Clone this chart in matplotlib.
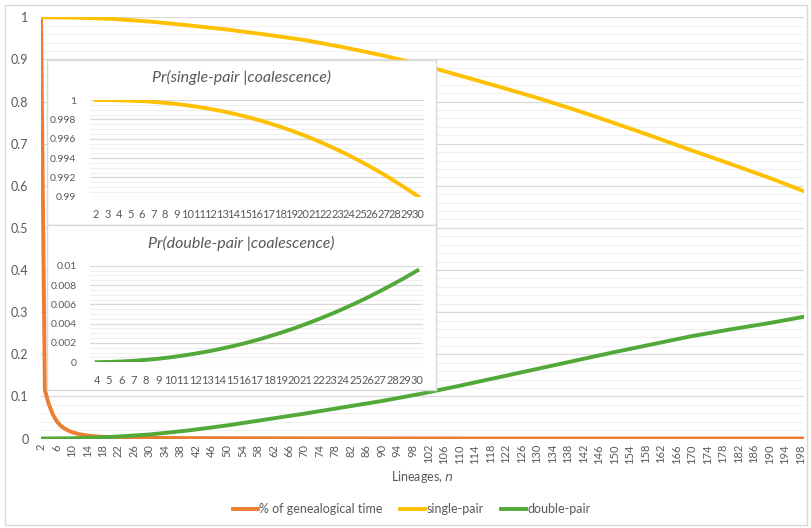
import matplotlib
matplotlib.use("Agg")
import matplotlib.pyplot as plt
from matplotlib.lines import Line2D
from matplotlib.patches import Rectangle
from matplotlib.ticker import MultipleLocator, FixedLocator

plt.rcParams["font.family"] = ["Lato", "DejaVu Sans"]

TXT = "#595959"
GRID = "#D9D9D9"
MINOR = "#F0F0F0"
ORANGE = "#ED7D31"
GOLD = "#FFC000"
GREEN = "#52A838"

# main chart, n = 2..199
n_time = [2, 3, 4, 5, 6, 7, 8, 9, 10, 12, 14, 16, 18, 20, 25, 30, 40, 50, 70, 90, 110, 111, 199]
pct_time = [1.0, 0.115, 0.082, 0.058, 0.042, 0.031, 0.024, 0.019, 0.015, 0.010, 0.007, 0.005,
            0.004, 0.003, 0.002, 0.0015, 0.001, 0.0008, 0.0005, 0.0003, 0.0002, 0.0, 0.0]

n_main = [2, 10, 20, 30, 40, 50, 60, 70, 80, 90, 100, 110, 120, 130, 140, 150, 160, 170, 180, 190, 199]
single_main = [1.0, 0.9994, 0.9964, 0.9900, 0.981, 0.971, 0.959, 0.946, 0.929, 0.910, 0.888,
               0.862, 0.836, 0.809, 0.780, 0.749, 0.717, 0.684, 0.652, 0.619, 0.587]
double_main = [0.0, 0.0005, 0.0035, 0.0095, 0.019, 0.031, 0.045, 0.059, 0.074, 0.089, 0.106,
               0.125, 0.145, 0.165, 0.185, 0.205, 0.224, 0.243, 0.259, 0.274, 0.289]

# insets
n_single = list(range(2, 31))
single_small = [1.0, 0.999995, 0.999977, 0.999941, 0.999886, 0.99981, 0.999711, 0.999588,
                0.99944, 0.999266, 0.999064, 0.998835, 0.998577, 0.998289, 0.997971, 0.997621,
                0.99724, 0.996827, 0.996381, 0.995902, 0.995388, 0.994842, 0.99426, 0.99364,
                0.99299, 0.99230, 0.99157, 0.99081, 0.99001]
n_double = list(range(4, 31))
double_small = [0.00001, 0.00004, 0.00008, 0.00016, 0.00025, 0.00037, 0.00052, 0.00070, 0.00090,
                0.00112, 0.00138, 0.00166, 0.00197, 0.00231, 0.00269, 0.00309, 0.00351, 0.00398,
                0.00447, 0.00499, 0.00554, 0.00612, 0.00673, 0.00738, 0.00806, 0.00876, 0.00950]

W, H = 812, 528


def rect(x0, y0, x1, y1):
    return [x0 / W, 1 - y1 / H, (x1 - x0) / W, (y1 - y0) / H]


def fmt(v):
    s = f"{v:.4f}".rstrip("0").rstrip(".")
    return s


def style_grid(ax):
    ax.set_facecolor("none")
    for s in ax.spines.values():
        s.set_visible(False)
    ax.grid(True, axis="y", which="major", color=GRID, lw=0.9)
    ax.grid(True, axis="y", which="minor", color=MINOR, lw=0.8)
    ax.set_axisbelow(True)
    ax.tick_params(axis="both", which="both", length=0, colors=TXT)


fig = plt.figure(figsize=(W / 100, H / 100), dpi=100)
fig.patches.append(Rectangle((5 / W, 1 - 525 / H), 802 / W, 520 / H, transform=fig.transFigure,
                             fill=False, ec=GRID, lw=1))

ax = fig.add_axes(rect(41, 17.3, 804, 438.5))
style_grid(ax)
ax.plot(n_time, pct_time, color=ORANGE, lw=2.8, solid_joinstyle="round")
ax.plot(n_main, single_main, color=GOLD, lw=2.8, solid_joinstyle="round")
ax.plot(n_main, double_main, color=GREEN, lw=2.8, solid_joinstyle="round")
ax.set_xlim(2, 199)
ax.set_ylim(0, 1)
ax.yaxis.set_major_locator(MultipleLocator(0.1))
ax.yaxis.set_minor_locator(MultipleLocator(0.02))
ax.set_yticks([i / 10 for i in range(11)])
ax.set_yticklabels([fmt(i / 10) for i in range(11)], fontsize=9)
ax.tick_params(axis="y", pad=9)
xt = list(range(2, 199, 4))
ax.set_xticks(xt)
ax.set_xticklabels([str(v) for v in xt], rotation=90, fontsize=8)
ax.tick_params(axis="x", pad=4)
ax.axhline(0, color=GRID, lw=0.9, zorder=0)

fig.text(422 / W, 1 - 477 / H, "Lineages, $\\it{n}$", ha="center", va="center", fontsize=9, color=TXT)

handles = [Line2D([], [], color=ORANGE, lw=2.8), Line2D([], [], color=GOLD, lw=2.8),
           Line2D([], [], color=GREEN, lw=2.8)]
fig.legend(handles, ["% of genealogical time", "single-pair", "double-pair"], loc="center",
           bbox_to_anchor=(412 / W, 1 - 509 / H), ncol=3, frameon=False, fontsize=9,
           handlelength=2.0, handletextpad=0.1, columnspacing=1.4, labelcolor=TXT)

# inset 1
box1 = fig.add_axes(rect(47.5, 60, 436, 225))
box1.set_xticks([]); box1.set_yticks([])
box1.set_facecolor("white")
for s in box1.spines.values():
    s.set_color(GRID); s.set_linewidth(1)
box1.text(0.5, 1 - 17.3 / 165, "Pr(single-pair |coalescence)", transform=box1.transAxes,
          ha="center", va="center", fontsize=11.5, style="italic", color=TXT)

a1 = fig.add_axes(rect(90, 100, 424.1, 196.7))
style_grid(a1)
a1.plot(n_single, single_small, color=GOLD, lw=2.8, solid_joinstyle="round")
a1.set_xlim(1.5, 30.5)
a1.set_ylim(0.99, 1.0)
yt1 = [0.99, 0.992, 0.994, 0.996, 0.998, 1.0]
a1.yaxis.set_major_locator(FixedLocator(yt1))
a1.yaxis.set_minor_locator(MultipleLocator(0.0005))
a1.set_yticklabels([fmt(v) for v in yt1], fontsize=7.5)
a1.set_xticks(n_single)
a1.set_xticklabels([str(v) for v in n_single], fontsize=8)
a1.tick_params(axis="y", pad=10)
a1.tick_params(axis="x", pad=9)

# inset 2
box2 = fig.add_axes(rect(47.5, 225, 436, 390))
box2.set_xticks([]); box2.set_yticks([])
box2.set_facecolor("white")
for s in box2.spines.values():
    s.set_color(GRID); s.set_linewidth(1)
box2.text(0.5, 1 - 18.3 / 165, "Pr(double-pair |coalescence)", transform=box2.transAxes,
          ha="center", va="center", fontsize=11.5, style="italic", color=TXT)

a2 = fig.add_axes(rect(90.5, 265.7, 423.5, 362.3))
style_grid(a2)
a2.plot(n_double, double_small, color=GREEN, lw=2.8, solid_joinstyle="round")
a2.set_xlim(3.5, 30.5)
a2.set_ylim(0, 0.01)
yt2 = [0, 0.002, 0.004, 0.006, 0.008, 0.01]
a2.yaxis.set_major_locator(FixedLocator(yt2))
a2.yaxis.set_minor_locator(MultipleLocator(0.0005))
a2.set_yticklabels([fmt(v) for v in yt2], fontsize=7.5)
a2.set_xticks(n_double)
a2.set_xticklabels([str(v) for v in n_double], fontsize=8)
a2.tick_params(axis="y", pad=10)
a2.tick_params(axis="x", pad=9)

fig.savefig("out.png", dpi=100)
